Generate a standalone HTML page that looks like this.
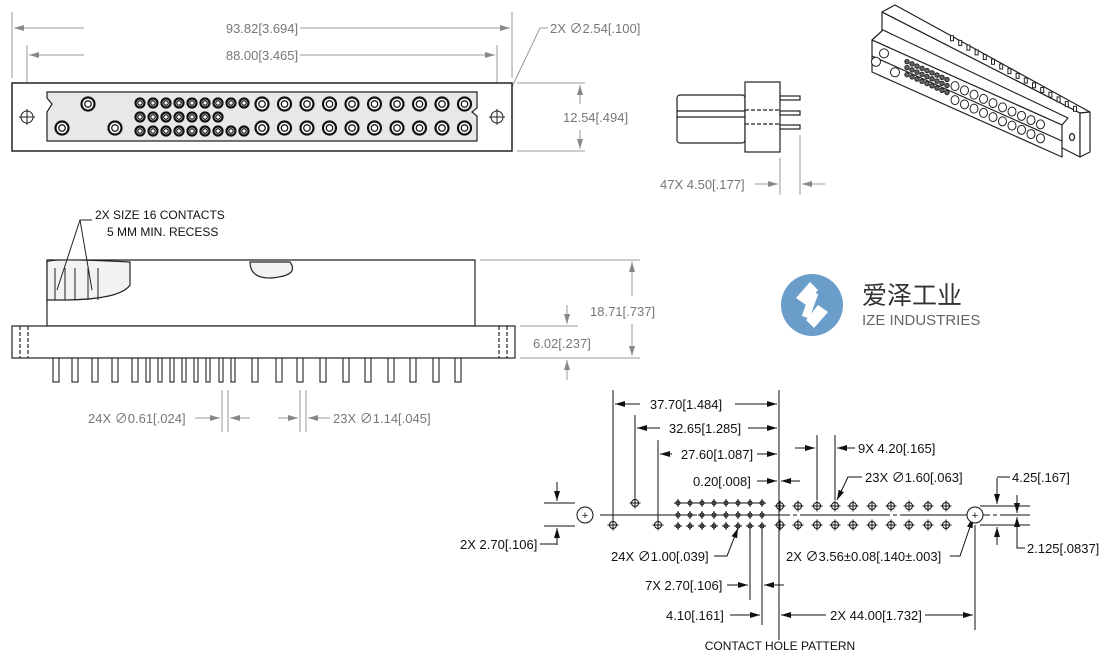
<!DOCTYPE html>
<html><head><meta charset="utf-8"><style>
html,body{margin:0;padding:0;background:#fff;width:1115px;height:654px;overflow:hidden}
svg{display:block;font-family:"Liberation Sans","Noto Sans CJK SC",sans-serif}
.g{fill:#777;font-size:13px}
.k{fill:#111;font-size:13px}
</style></head><body>
<svg id="s" width="1115" height="654" viewBox="0 0 1115 654" xmlns="http://www.w3.org/2000/svg">
<defs>
<marker id="a" markerWidth="10" markerHeight="6" refX="10" refY="3" orient="auto-start-reverse" markerUnits="userSpaceOnUse"><path d="M0,0 L10,3 L0,6z" fill="#888"/></marker>
<marker id="b" markerWidth="10" markerHeight="6" refX="10" refY="3" orient="auto-start-reverse" markerUnits="userSpaceOnUse"><path d="M0,0 L10,3 L0,6z" fill="#111"/></marker>
</defs>

<!-- TOP VIEW -->
<g stroke="#999" stroke-width="1" fill="none">
<line x1="12" y1="12" x2="12" y2="78"/><line x1="512" y1="12" x2="512" y2="78"/>
<line x1="27" y1="45" x2="27" y2="110"/><line x1="497" y1="45" x2="497" y2="110"/>
<line x1="14" y1="28" x2="84" y2="28" marker-start="url(#a)"/><line x1="300" y1="28" x2="510" y2="28" marker-end="url(#a)"/>
<line x1="29" y1="55" x2="84" y2="55" marker-start="url(#a)"/><line x1="300" y1="55" x2="495" y2="55" marker-end="url(#a)"/>
<line x1="517" y1="83" x2="585" y2="83"/><line x1="517" y1="151" x2="585" y2="151"/>
<line x1="580" y1="85" x2="580" y2="104" marker-start="url(#a)"/><line x1="580" y1="130" x2="580" y2="149" marker-end="url(#a)"/>
<polyline points="548,28 540,28 500,112" marker-end="url(#a)"/>
</g>
<text class="g" x="262" y="33" text-anchor="middle">93.82[3.694]</text>
<text class="g" x="262" y="60" text-anchor="middle">88.00[3.465]</text>
<text class="g" x="550" y="33">2X ∅2.54[.100]</text>
<text class="g" x="563" y="122">12.54[.494]</text>
<rect x="12" y="83" width="500" height="68" fill="#fff" stroke="#222" stroke-width="1.5"/>
<polygon points="47,92 477,92 477,108 472,112 477,116 477,141 47,141 47,112 52,104 47,98" fill="#e8e8e8" stroke="#222" stroke-width="1.2"/>
<g id="tc"></g>
<g stroke="#222" fill="none"><circle cx="27" cy="117" r="6"/><line x1="19" y1="117" x2="35" y2="117"/><line x1="27" y1="109" x2="27" y2="125"/>
<circle cx="497" cy="117" r="6"/><line x1="489" y1="117" x2="505" y2="117"/><line x1="497" y1="109" x2="497" y2="125"/></g>

<!-- END VIEW -->
<g stroke="#222" fill="#fff" stroke-width="1.2">
<rect x="677" y="95" width="68" height="48" rx="3"/>
<line x1="677" y1="111" x2="745" y2="111"/><line x1="677" y1="117" x2="745" y2="117"/>
<rect x="745" y="82" width="35" height="70"/>
<line x1="745" y1="110" x2="780" y2="110" stroke-dasharray="4,2"/><line x1="745" y1="124" x2="780" y2="124" stroke-dasharray="4,2"/>
<rect x="780" y="96" width="20" height="4"/><rect x="780" y="111" width="20" height="4"/><rect x="780" y="125" width="20" height="4"/>
</g>
<g stroke="#999" fill="none"><line x1="780" y1="158" x2="780" y2="195"/><line x1="800" y1="135" x2="800" y2="195"/>
<line x1="755" y1="184" x2="778" y2="184" marker-end="url(#a)"/><line x1="825" y1="184" x2="802" y2="184" marker-end="url(#a)"/></g>
<text class="g" x="660" y="189">47X 4.50[.177]</text>

<!-- ISO VIEW -->
<g stroke="#222" stroke-width="1.2" fill="#fff" stroke-linejoin="round">
<polygon points="882,12 1080,113 1080,157 882,56"/>
<polygon points="882,12 895,5 1090,112 1080,113"/>
<polygon points="1080,113 1090,112 1090,152 1080,157"/>
</g>
<g id="isop"></g>
<g stroke="#222" stroke-width="1.2" fill="#fff" stroke-linejoin="round">
<polygon points="872,40 883,30 1068,118 1062,125"/>
<polygon points="872,40 1062,125 1062,157 872,72"/>
<line x1="872" y1="56" x2="1062" y2="141"/>
<ellipse cx="1072" cy="137" rx="2.5" ry="3.5"/>
</g>
<g id="iso"></g>

<!-- SIDE VIEW -->
<g stroke="#222" stroke-width="1.2" fill="#fff">
<path d="M47,260 L475,260 L475,326 L47,326 Z"/>
<path d="M47,262 Q50,258 130,262 L130,285 Q120,300 60,300 L47,300 Z" fill="#f2f2f2"/>
<path d="M250,262 L290,262 Q300,276 270,278 Q250,278 250,262Z" fill="#f2f2f2"/>
<rect x="12" y="326" width="503" height="32"/>
<line x1="20" y1="326" x2="20" y2="358" stroke-dasharray="4,2"/><line x1="28" y1="326" x2="28" y2="358" stroke-dasharray="4,2"/>
<line x1="499" y1="326" x2="499" y2="358" stroke-dasharray="4,2"/><line x1="507" y1="326" x2="507" y2="358" stroke-dasharray="4,2"/>
</g>
<g id="pins"></g>
<g stroke="#222" stroke-width="1" fill="none">
<line x1="55" y1="268" x2="55" y2="300"/><line x1="65" y1="268" x2="65" y2="300"/><line x1="75" y1="268" x2="75" y2="300"/>
<line x1="88" y1="268" x2="88" y2="300"/><line x1="98" y1="268" x2="98" y2="300"/>
</g>
<text class="k" x="95" y="219" style="font-size:12px">2X SIZE 16 CONTACTS</text>
<text class="k" x="107" y="236" style="font-size:12px">5 MM MIN. RECESS</text>
<g stroke="#222" fill="none"><polyline points="92,220 80,220 57,290"/><line x1="80" y1="220" x2="92" y2="290"/></g>
<g stroke="#999" fill="none">
<line x1="480" y1="260" x2="640" y2="260"/><line x1="520" y1="358" x2="640" y2="358"/><line x1="520" y1="326" x2="578" y2="326"/>
<line x1="632" y1="262" x2="632" y2="296" marker-start="url(#a)"/><line x1="632" y1="324" x2="632" y2="356" marker-end="url(#a)"/>
<line x1="567" y1="305" x2="567" y2="324" marker-end="url(#a)"/><line x1="567" y1="380" x2="567" y2="360" marker-end="url(#a)"/>
<line x1="222" y1="390" x2="222" y2="432"/><line x1="228" y1="390" x2="228" y2="432"/>
<line x1="300" y1="390" x2="300" y2="432"/><line x1="306" y1="390" x2="306" y2="432"/>
<line x1="195" y1="418" x2="220" y2="418" marker-end="url(#a)"/><line x1="250" y1="418" x2="230" y2="418" marker-end="url(#a)"/>
<line x1="278" y1="418" x2="298" y2="418" marker-end="url(#a)"/><line x1="330" y1="418" x2="308" y2="418" marker-end="url(#a)"/>
</g>
<text class="g" x="590" y="316">18.71[.737]</text>
<text class="g" x="533" y="348">6.02[.237]</text>
<text class="g" x="88" y="423">24X ∅0.61[.024]</text>
<text class="g" x="333" y="423">23X ∅1.14[.045]</text>

<!-- LOGO -->
<circle cx="812" cy="305" r="31" fill="#6b9dcb"/>
<path d="M796,298 L810,282 L818,290 L806,305 Z M828,312 L814,328 L806,320 L818,305Z" fill="#fff"/>
<rect x="806" y="292" width="8" height="26" fill="#fff" transform="rotate(20 810 305)"/>
<text x="862" y="304" style="font-size:25px;fill:#333;font-family:'Noto Sans CJK SC',sans-serif">爱泽工业</text>
<text x="862" y="325" style="font-size:15px;fill:#666">IZE INDUSTRIES</text>

<!-- CONTACT HOLE PATTERN -->
<g stroke="#111" fill="none" stroke-width="1">
<line x1="544" y1="503" x2="575" y2="503"/><line x1="544" y1="526" x2="575" y2="526"/>
<line x1="557" y1="482" x2="557" y2="501" marker-end="url(#b)"/><line x1="557" y1="545" x2="557" y2="528" marker-end="url(#b)"/><polyline points="540,544 557,544"/>
<line x1="600" y1="515" x2="1030" y2="515" stroke-dasharray="90,3,4,3"/>
<line x1="677" y1="503" x2="765" y2="503"/>
<line x1="613" y1="390" x2="613" y2="525"/><line x1="635" y1="415" x2="635" y2="503"/><line x1="658" y1="440" x2="658" y2="525"/>
<line x1="779" y1="390" x2="779" y2="640"/>
<line x1="615" y1="404" x2="640" y2="404" marker-start="url(#b)"/><line x1="735" y1="404" x2="777" y2="404" marker-end="url(#b)"/>
<line x1="637" y1="428" x2="660" y2="428" marker-start="url(#b)"/><line x1="748" y1="428" x2="777" y2="428" marker-end="url(#b)"/>
<line x1="660" y1="454" x2="672" y2="454" marker-start="url(#b)"/><line x1="757" y1="454" x2="777" y2="454" marker-end="url(#b)"/>
<line x1="757" y1="481" x2="777" y2="481" marker-end="url(#b)"/><line x1="800" y1="481" x2="781" y2="481" marker-end="url(#b)"/>
<line x1="817" y1="435" x2="817" y2="500"/><line x1="835" y1="435" x2="835" y2="500"/>
<line x1="795" y1="448" x2="815" y2="448" marker-end="url(#b)"/><line x1="855" y1="448" x2="837" y2="448" marker-end="url(#b)"/>
<polyline points="862,477 848,477 837,500" marker-end="url(#b)"/>
<line x1="980" y1="506" x2="1030" y2="506"/><line x1="980" y1="525" x2="1030" y2="525"/>
<line x1="997" y1="478" x2="997" y2="504" marker-end="url(#b)"/><line x1="997" y1="545" x2="997" y2="527" marker-end="url(#b)"/>
<polyline points="1010,477 997,477"/>
<line x1="1017" y1="495" x2="1017" y2="513" marker-end="url(#b)"/><line x1="1017" y1="540" x2="1017" y2="517" marker-end="url(#b)"/>
<polyline points="1017,540 1017,548 1025,548"/>
<polyline points="714,556 727,556 738,528" marker-end="url(#b)"/>
<polyline points="950,556 960,556 973,518" marker-end="url(#b)"/>
<line x1="779" y1="540" x2="779" y2="560" stroke-dasharray="3,3"/>
<line x1="750" y1="528" x2="750" y2="600"/><line x1="762" y1="528" x2="762" y2="625"/>
<line x1="727" y1="585" x2="748" y2="585" marker-end="url(#b)"/><line x1="784" y1="585" x2="764" y2="585" marker-end="url(#b)"/>
<line x1="730" y1="615" x2="760" y2="615" marker-end="url(#b)"/>
<line x1="781" y1="615" x2="826" y2="615" marker-start="url(#b)"/><line x1="925" y1="615" x2="973" y2="615" marker-end="url(#b)"/>
<line x1="975" y1="525" x2="975" y2="630"/>
</g>
<g id="holes"></g>
<text class="k" x="686" y="409" text-anchor="middle">37.70[1.484]</text>
<text class="k" x="705" y="433" text-anchor="middle">32.65[1.285]</text>
<text class="k" x="717" y="459" text-anchor="middle">27.60[1.087]</text>
<text class="k" x="693" y="486">0.20[.008]</text>
<text class="k" x="858" y="453">9X 4.20[.165]</text>
<text class="k" x="865" y="482">23X ∅1.60[.063]</text>
<text class="k" x="1012" y="482">4.25[.167]</text>
<text class="k" x="460" y="549">2X 2.70[.106]</text>
<text class="k" x="611" y="561">24X ∅1.00[.039]</text>
<text class="k" x="786" y="561">2X ∅3.56±0.08[.140±.003]</text>
<text class="k" x="1027" y="553">2.125[.0837]</text>
<text class="k" x="645" y="590">7X 2.70[.106]</text>
<text class="k" x="666" y="620">4.10[.161]</text>
<text class="k" x="876" y="620" text-anchor="middle">2X 44.00[1.732]</text>
<text class="k" x="780" y="650" text-anchor="middle" style="font-size:12px">CONTACT HOLE PATTERN</text>
</svg>
<script>
var NS="http://www.w3.org/2000/svg";
function el(p,t,a){var e=document.createElementNS(NS,t);for(var k in a)e.setAttribute(k,a[k]);document.getElementById(p).appendChild(e);return e;}
function cc(x,y,r){el("tc","circle",{cx:x,cy:y,r:r,fill:"#fff",stroke:"#111","stroke-width":2.2});el("tc","circle",{cx:x,cy:y,r:r*0.5,fill:"#fff",stroke:"#111","stroke-width":1.2});}
for(var i=0;i<9;i++){cc(140+i*13,103,4.5);cc(140+i*13,131,4.5);}
for(var i=0;i<7;i++)cc(140+i*13,117,4.5);
for(var i=0;i<10;i++){cc(262+i*22.5,104,6.5);cc(262+i*22.5,128,6.5);}
cc(88,104,6.5);cc(62,128,6.5);cc(115,128,6.5);
// iso
var sl=0.447;
function fy(x){return 40+(x-872)*sl;}
for(var i=0;i<10;i++){var x=955+i*9.5;
 el("iso","ellipse",{cx:x,cy:fy(x)+9,rx:4,ry:4.5,fill:"#fff",stroke:"#222"});
 el("iso","ellipse",{cx:x,cy:fy(x)+23,rx:4,ry:4.5,fill:"#fff",stroke:"#222"});}
for(var i=0;i<9;i++){var x=907+i*5;[6,12,19].forEach(function(o){el("iso","circle",{cx:x,cy:fy(x)+o,r:2.2,fill:"#666",stroke:"#222"});});}
el("iso","circle",{cx:884,cy:fy(884)+8,r:4.5,fill:"#fff",stroke:"#222"});
el("iso","circle",{cx:876,cy:fy(876)+20,r:4.5,fill:"#fff",stroke:"#222"});
el("iso","circle",{cx:895,cy:fy(895)+22,r:4.5,fill:"#fff",stroke:"#222"});
for(var i=0;i<16;i++){var x=952+i*8.2;var y=5+(x-895)*0.574+2;el("isop","rect",{x:x-1.5,y:y-4,width:3,height:5,fill:"#fff",stroke:"#222"});}
var px=[56,75,95,115,135,148,160,172,184,196,208,221,233,255,279,300,323,346,368,391,413,436,458];
px.forEach(function(x,i){var w=(i>=5&&i<=12)?4:6;el("pins","rect",{x:x-w/2,y:358,width:w,height:24,fill:"#fff",stroke:"#222","stroke-width":1.1});});
function ph(x,y,r){el("holes","circle",{cx:x,cy:y,r:r,fill:"none",stroke:"#111"});el("holes","line",{x1:x-r-2,y1:y,x2:x+r+2,y2:y,stroke:"#111"});el("holes","line",{x1:x,y1:y-r-2,x2:x,y2:y+r+2,stroke:"#111"});}
for(var i=0;i<8;i++){[503,515,526].forEach(function(y){ph(678+i*12,y,2);});}
for(var i=0;i<10;i++){var x=[780,798,817,835,853,872,891,909,928,946][i];ph(x,506,3.5);ph(x,525,3.5);}
ph(635,503,3.5);ph(613,525,3.5);ph(658,525,3.5);
[585,975].forEach(function(x){el("holes","circle",{cx:x,cy:515,r:8,fill:"#fff",stroke:"#111"});el("holes","text",{x:x,y:519,"text-anchor":"middle","font-size":"11",fill:"#111"}).textContent="+";});
</script>
</body></html>
